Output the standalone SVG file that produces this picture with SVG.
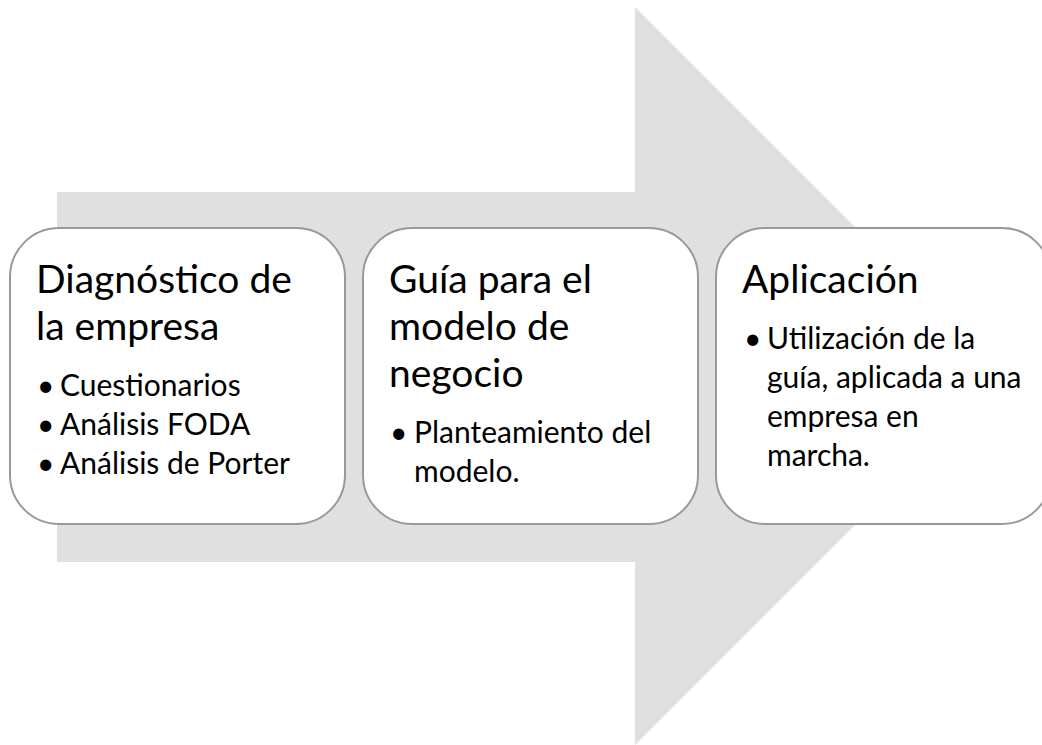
<svg xmlns="http://www.w3.org/2000/svg" width="1042" height="745" viewBox="0 0 1042 745">
  <style>
    .bg { fill: #e0e0e0; stroke: none; }
    .box { fill: #ffffff; stroke: #999999; stroke-width: 2; }
    .title { font-family: Lato, "Open Sans", "Liberation Sans", sans-serif; font-size: 39px; fill: #000000; }
    .item { font-family: Lato, "Open Sans", "Liberation Sans", sans-serif; font-size: 30px; fill: #000000; }
  </style>
  <rect x="0" y="0" width="1042" height="745" fill="#ffffff"/>
  <g id="arrow">
    <polygon class="bg" points="57,192 635,192 635,7 1004,376 635,745 635,562 57,562"/>
  </g>
  <g id="node-diagnostico">
    <rect class="box" x="10" y="228" width="335" height="296" rx="49" ry="49"/>
    <text class="title" x="36" y="293">Diagnóstico de</text>
    <text class="title" x="36" y="340">la empresa</text>
    <text class="item" x="37" y="396">•</text>
    <text class="item" x="60" y="396">Cuestionarios</text>
    <text class="item" x="37" y="435">•</text>
    <text class="item" x="60" y="435">Análisis FODA</text>
    <text class="item" x="37" y="474">•</text>
    <text class="item" x="60" y="474">Análisis de Porter</text>
  </g>
  <g id="node-guia">
    <rect class="box" x="363" y="228" width="335" height="296" rx="49" ry="49"/>
    <text class="title" x="389" y="293">Guía para el</text>
    <text class="title" x="389" y="340">modelo de</text>
    <text class="title" x="389" y="387">negocio</text>
    <text class="item" x="390" y="443">•</text>
    <text class="item" x="414" y="443">Planteamiento del</text>
    <text class="item" x="414" y="482">modelo.</text>
  </g>
  <g id="node-aplicacion">
    <rect class="box" x="716" y="228" width="335" height="296" rx="49" ry="49"/>
    <text class="title" x="742" y="293">Aplicación</text>
    <text class="item" x="744" y="349">•</text>
    <text class="item" x="767" y="349">Utilización de la</text>
    <text class="item" x="767" y="388">guía, aplicada a una</text>
    <text class="item" x="767" y="427">empresa en</text>
    <text class="item" x="767" y="466">marcha.</text>
  </g>
</svg>
